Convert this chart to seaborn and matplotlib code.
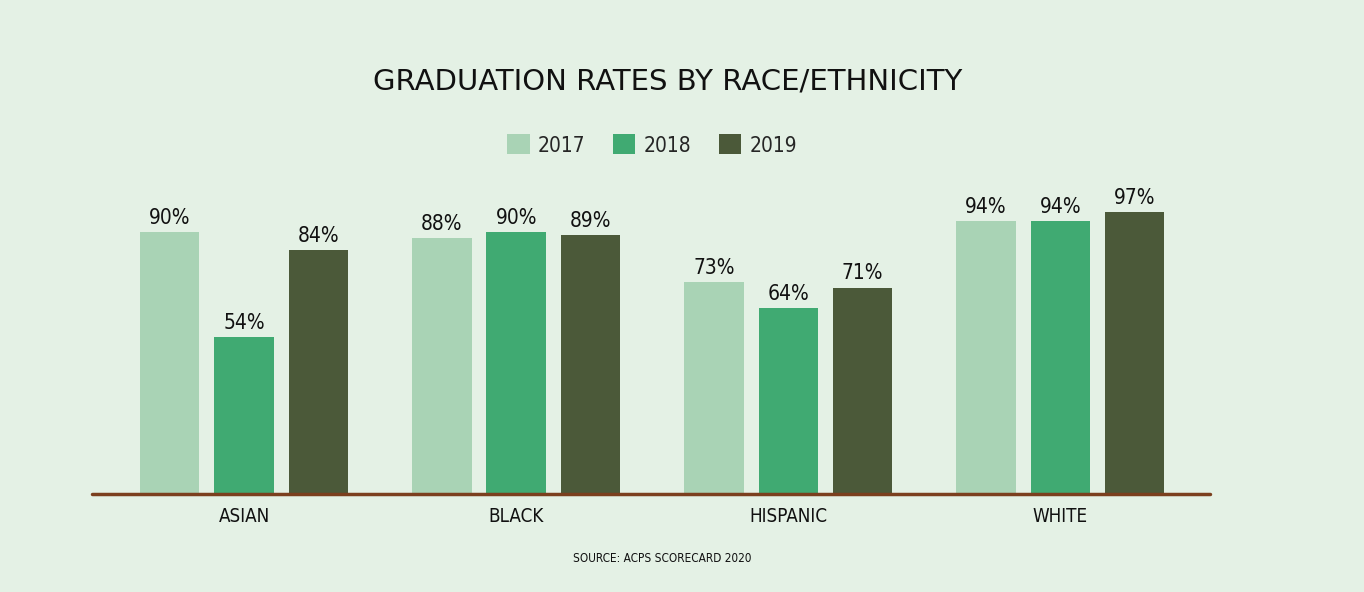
import seaborn as sns
import pandas as pd
import matplotlib.pyplot as plt
from matplotlib.patches import Patch

# data
groups = ["ASIAN", "BLACK", "HISPANIC", "WHITE"]
years = ["2017", "2018", "2019"]
rates_2017 = [90, 88, 73, 94]
rates_2018 = [54, 90, 64, 94]
rates_2019 = [84, 89, 71, 97]
colors = ["#a9d3b5", "#40aa72", "#4b5939"]

rows = []
for yr, vals in zip(years, [rates_2017, rates_2018, rates_2019]):
    for g, v in zip(groups, vals):
        rows.append({"group": g, "year": yr, "rate": v})
df = pd.DataFrame(rows)

sns.set_theme(style="white")
plt.rcParams["font.family"] = ["DejaVu Sans"]
plt.rcParams["font.stretch"] = "condensed"

bg = "#e4f1e5"
fig = plt.figure(figsize=(13.64, 5.92), dpi=100, facecolor=bg)
ax = fig.add_axes([92 / 1364, 98 / 592, (1210 - 92) / 1364, 314 / 592])
ax.set_facecolor("none")

sns.barplot(data=df, x="group", y="rate", hue="year", palette=colors,
            width=0.82, gap=0.2, ax=ax, legend=False, saturation=1,
            linewidth=0, edgecolor="none")

for c in ax.containers:
    ax.bar_label(c, fmt="{:.0f}%", padding=3, fontsize=15, color="#111111")

ax.set_xlim(-0.559, 3.55)
ax.set_ylim(0, 108)
ax.axhline(0, color="#7b3f1e", linewidth=2.5, clip_on=False)
sns.despine(ax=ax, left=True, bottom=True)
ax.set_yticks([])
ax.set_ylabel("")
ax.set_xlabel("")
ax.tick_params(axis="x", length=0, pad=9, labelsize=13.5, labelcolor="#111111")

# title, legend, source
fig.text(668 / 1364, 1 - 82 / 592, "GRADUATION RATES BY RACE/ETHNICITY",
         ha="center", va="center", fontsize=21, color="#111111",
         fontstretch="normal")
handles = [Patch(facecolor=c, edgecolor="none") for c in colors]
fig.legend(handles, years, loc="center", bbox_to_anchor=(652 / 1364, 1 - 145 / 592),
           ncol=3, frameon=False, fontsize=15, handlelength=1.1, handleheight=1.1,
           handletextpad=0.4, columnspacing=1.3)
fig.text(662 / 1364, 1 - 558 / 592, "SOURCE: ACPS SCORECARD 2020",
         ha="center", va="center", fontsize=8.5, color="#111111")

fig.savefig("out.png", dpi=100, facecolor=bg)
